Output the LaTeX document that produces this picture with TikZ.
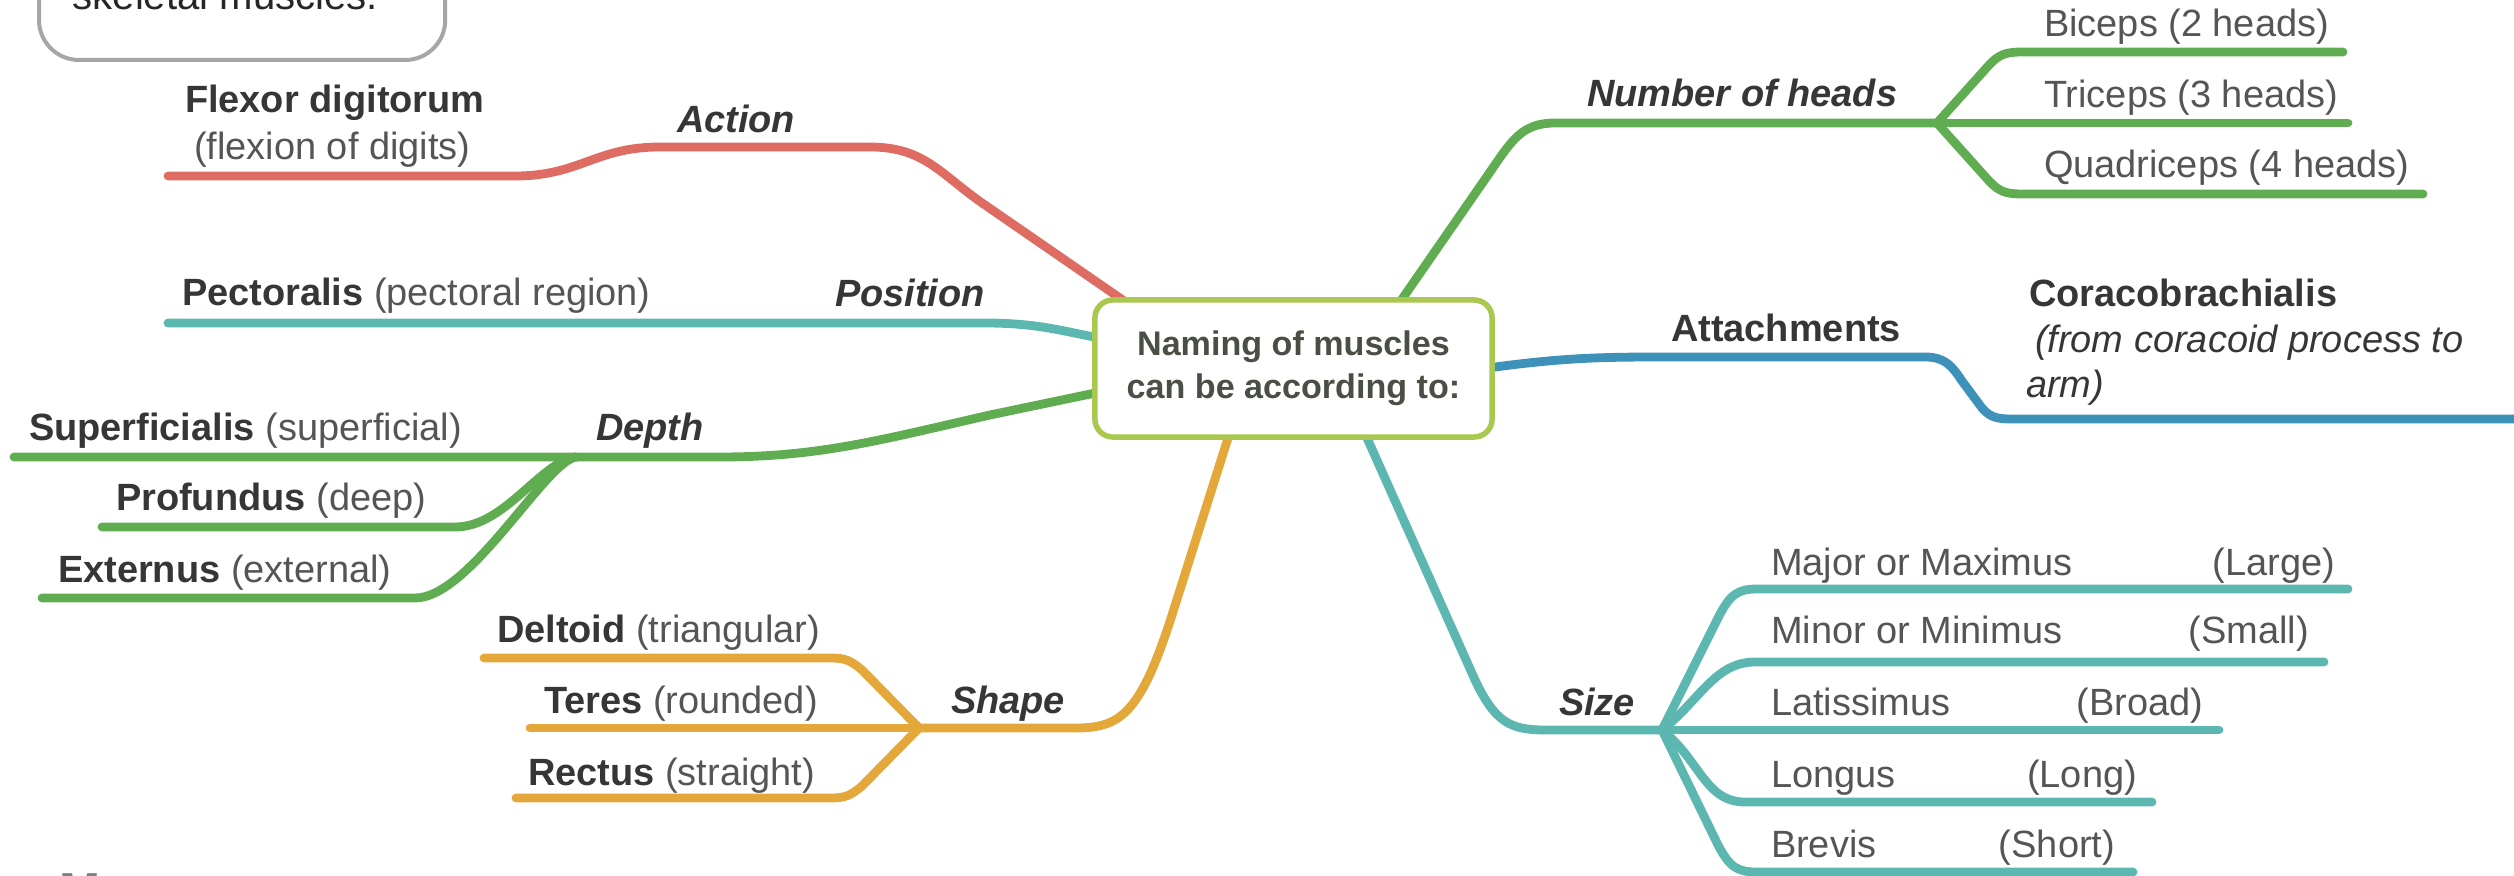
\documentclass[tikz,border=0pt]{standalone}
\usepackage{fontspec}
\setmainfont{Liberation Sans}
\definecolor{cred}{HTML}{DE6C62}
\definecolor{cteal}{HTML}{5CB7B1}
\definecolor{cgreen}{HTML}{60AC50}
\definecolor{corange}{HTML}{E4A83A}
\definecolor{cblue}{HTML}{3E91B8}
\definecolor{boxgreen}{HTML}{AAC850}
\definecolor{notegrey}{HTML}{A6A6A6}
\definecolor{txtdark}{HTML}{363636}
\definecolor{txtreg}{HTML}{555555}
\definecolor{txtcenter}{HTML}{4A4F45}
\newcommand\bb[1]{{\bfseries\color{txtdark}#1}}
\tikzset{
  br/.style={line width=0.088cm, line cap=round, line join=round},
  lab/.style={anchor=base west, inner sep=0pt, outer sep=0pt, font=\fontsize{10.8pt}{13pt}\selectfont, text=txtreg},
  labr/.style={lab, anchor=base east},
  head/.style={lab, text=txtdark, font=\fontsize{10.8pt}{13pt}\selectfont\bfseries\itshape},
}
\begin{document}
\begin{tikzpicture}[x=0.01cm,y=-0.01cm]
\useasboundingbox (0,0) rectangle (2514,876);
\clip (0,0) rectangle (2514,876);

% ---------- note box (cut off at the top)
\node[draw=notegrey, line width=0.04cm, rounded corners=0.4cm, minimum width=4.06cm, minimum height=2.2cm, anchor=south west, inner sep=0pt] (note) at (37,62) {};
\node[anchor=base west, inner sep=0pt, font=\fontsize{11.4pt}{14pt}\selectfont, text=black!85] (notetxt) at (72,10) {skeletal muscles.};
\node[anchor=north west, inner sep=0pt, font=\fontsize{14pt}{16pt}\selectfont\bfseries, text=gray] (mark) at (59,873) {M};

% ---------- named coordinates
\coordinate (actEnd) at (168,176);
\coordinate (actMid) at (870,147);
\coordinate (actIn) at (1130,305);
\coordinate (posEnd) at (168,323);
\coordinate (posIn) at (1100,338);
\coordinate (depEnd) at (14,457);
\coordinate (depIn) at (1100,392);
\coordinate (depJ) at (576,457);
\coordinate (proEnd) at (102,527);
\coordinate (extEnd) at (42,598);
\coordinate (shpIn) at (1228,438);
\coordinate (shpJ) at (919,728);
\coordinate (delEnd) at (484,658);
\coordinate (terEnd) at (530,728);
\coordinate (recEnd) at (516,798);
\coordinate (nohIn) at (1400,302);
\coordinate (nohJ) at (1937,123);
\coordinate (bicEnd) at (2343,52);
\coordinate (triEnd) at (2348,123);
\coordinate (quaEnd) at (2423,194);
\coordinate (attIn) at (1488,368);
\coordinate (attEnd) at (2530,419);
\coordinate (sizIn) at (1367,438);
\coordinate (sizJ) at (1662,730);
\coordinate (majEnd) at (2348,589);
\coordinate (minEnd) at (2324,662);
\coordinate (latEnd) at (2219,730);
\coordinate (lonEnd) at (2152,802);
\coordinate (breEnd) at (2133,872);

% ---------- branches
% Action
\draw[br, cred] (actEnd) -- (515,176) .. controls (580,176) and (595,147) .. (660,147) -- (actMid)
  .. controls (925,147) and (941,175) .. (985,205) -- (actIn);
% Position
\draw[br, cteal] (posEnd) -- (985,323) .. controls (1040,323) and (1065,332) .. (posIn);
% Depth
\draw[br, cgreen] (depEnd) -- (720,457) .. controls (820,457) and (880,440) .. (990,415) -- (depIn);
\draw[br, cgreen] (depJ) .. controls (540,462) and (505,527) .. (455,527) -- (proEnd);
\draw[br, cgreen] (depJ) .. controls (545,462) and (470,598) .. (415,598) -- (extEnd);
% Shape
\draw[br, corange] (shpIn) -- (1172,615) .. controls (1140,715) and (1120,728) .. (1075,728) -- (shpJ);
\draw[br, corange] (shpJ) -- (862,670) .. controls (850,660) and (845,658) .. (830,658) -- (delEnd);
\draw[br, corange] (shpJ) -- (terEnd);
\draw[br, corange] (shpJ) -- (862,786) .. controls (850,796) and (845,798) .. (830,798) -- (recEnd);
% Number of heads
\draw[br, cgreen] (nohIn) -- (1490,172) .. controls (1512,140) and (1522,123) .. (1555,123) -- (nohJ);
\draw[br, cgreen] (nohJ) -- (1990,64) .. controls (1999,55) and (2005,52) .. (2022,52) -- (bicEnd);
\draw[br, cgreen] (nohJ) -- (triEnd);
\draw[br, cgreen] (nohJ) -- (1990,182) .. controls (1999,191) and (2005,194) .. (2022,194) -- (quaEnd);
% Attachments
\draw[br, cblue] (attIn) .. controls (1560,358) and (1600,357) .. (1660,357) -- (1925,357)
  .. controls (1945,357) and (1952,366) .. (1962,381) -- (1982,408)
  .. controls (1990,417) and (1996,419) .. (2012,419) -- (attEnd);
% Size
\draw[br, cteal] (sizIn) -- (1475,680) .. controls (1495,722) and (1510,730) .. (1545,730) -- (sizJ);
\draw[br, cteal] (sizJ) -- (1718,618) .. controls (1730,594) and (1738,589) .. (1757,589) -- (majEnd);
\draw[br, cteal] (sizJ) .. controls (1700,700) and (1715,662) .. (1755,662) -- (minEnd);
\draw[br, cteal] (sizJ) -- (latEnd);
\draw[br, cteal] (sizJ) .. controls (1700,760) and (1705,802) .. (1745,802) -- (lonEnd);
\draw[br, cteal] (sizJ) -- (1718,845) .. controls (1730,868) and (1738,872) .. (1757,872) -- (breEnd);

% ---------- central node
\node[draw=boxgreen, line width=0.055cm, fill=white, rounded corners=0.18cm,
      minimum width=3.97cm, minimum height=1.37cm, inner sep=0pt, align=center,
      font=\fontsize{9.7pt}{12.2pt}\selectfont\bfseries, text=txtcenter] (center) at (1293.5,368.5)
      {Naming of muscles\\can be according to:};

% ---------- labels
\node[lab] (flexor) at (185,113) {\bb{Flexor digitorum}};
\node[lab] (flexion) at (194,160) {(flexion of digits)};
\node[head] (action) at (677,133) {Action};

\node[lab] (pector) at (182,305) {\bb{Pectoralis} (pectoral region)};
\node[head] (position) at (835,307) {Position};

\node[lab] (superf) at (29,440) {\bb{Superficialis} (superficial)};
\node[head] (depth) at (596,440) {Depth};
\node[lab] (profund) at (116,510) {\bb{Profundus} (deep)};
\node[lab] (extern) at (58,582) {\bb{Externus} (external)};

\node[lab] (deltoid) at (497,642) {\bb{Deltoid} (triangular)};
\node[lab] (teres) at (544,713) {\bb{Teres} (rounded)};
\node[lab] (rectus) at (528,785) {\bb{Rectus} (straight)};
\node[head] (shape) at (951,713) {Shape};

\node[head] (noheads) at (1587,107) {Number of heads};
\node[lab] (biceps) at (2044,37) {Biceps (2 heads)};
\node[lab] (triceps) at (2044,108) {Triceps (3 heads)};
\node[lab] (quadri) at (2044,178) {Quadriceps (4 heads)};

\node[lab, text=txtdark, font=\fontsize{10.8pt}{13pt}\selectfont\bfseries] (attach) at (1671,342) {Attachments};
\node[lab] (coraco) at (2029,307) {\bb{Coracobrachialis}};
\node[lab, font=\fontsize{10.8pt}{13pt}\selectfont\itshape, text=txtdark] (coraco2) at (2035,353) {(from coracoid process to};
\node[lab, font=\fontsize{10.8pt}{13pt}\selectfont\itshape, text=txtdark] (coraco3) at (2026,398) {arm)};

\node[head] (size) at (1559,715) {Size};
\node[lab] (major) at (1771,575) {Major or Maximus};
\node[labr] (large) at (2335,575) {(Large)};
\node[lab] (minor) at (1771,643) {Minor or Minimus};
\node[labr] (small) at (2309,643) {(Small)};
\node[lab] (latis) at (1771,715) {Latissimus};
\node[labr] (broad) at (2203,715) {(Broad)};
\node[lab] (longus) at (1771,787) {Longus};
\node[labr] (long) at (2137,787) {(Long)};
\node[lab] (brevis) at (1771,857) {Brevis};
\node[labr] (short) at (2115,857) {(Short)};
\end{tikzpicture}
\end{document}
